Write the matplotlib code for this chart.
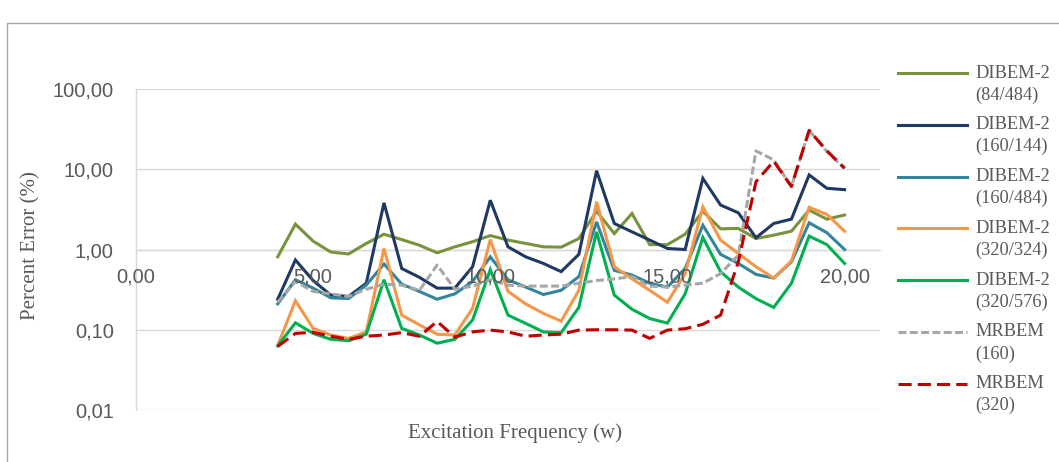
import matplotlib
matplotlib.use("Agg")
import matplotlib.pyplot as plt
from matplotlib.lines import Line2D
from matplotlib.patches import Rectangle
from matplotlib.ticker import FixedLocator, NullLocator

# ---- data ----
freq = [4.0, 4.5, 5.0, 5.5, 6.0, 6.5, 7.0, 7.5, 8.0, 8.5, 9.0, 9.5, 10.0, 10.5,
        11.0, 11.5, 12.0, 12.5, 13.0, 13.5, 14.0, 14.5, 15.0, 15.5, 16.0, 16.5,
        17.0, 17.5, 18.0, 18.5, 19.0, 19.5, 20.0]

dibem_84_484 = [0.81, 2.07, 1.27, 0.93, 0.88, 1.19, 1.55, 1.33, 1.13, 0.91, 1.08,
                1.25, 1.49, 1.31, 1.19, 1.08, 1.07, 1.37, 3.00, 1.58, 2.81, 1.15,
                1.15, 1.55, 3.00, 1.81, 1.83, 1.37, 1.51, 1.69, 3.10, 2.39, 2.69]
dibem_160_144 = [0.24, 0.74, 0.41, 0.27, 0.26, 0.38, 3.81, 0.58, 0.45, 0.33, 0.33,
                 0.61, 4.11, 1.08, 0.81, 0.67, 0.53, 0.87, 9.58, 2.11, 1.66, 1.31,
                 1.03, 1.00, 7.69, 3.58, 2.87, 1.40, 2.11, 2.39, 8.50, 5.79, 5.57]
dibem_160_484 = [0.21, 0.42, 0.33, 0.25, 0.245, 0.36, 0.66, 0.37, 0.30, 0.24, 0.28,
                 0.40, 0.81, 0.42, 0.34, 0.275, 0.31, 0.46, 2.21, 0.55, 0.48, 0.38,
                 0.34, 0.58, 2.01, 0.87, 0.67, 0.49, 0.44, 0.70, 2.15, 1.62, 1.00]
dibem_320_324 = [0.064, 0.23, 0.104, 0.086, 0.078, 0.094, 1.03, 0.152, 0.115, 0.088,
                 0.086, 0.185, 1.33, 0.30, 0.21, 0.16, 0.128, 0.31, 3.93, 0.61, 0.43,
                 0.31, 0.22, 0.50, 3.40, 1.31, 0.89, 0.61, 0.44, 0.72, 3.35, 2.74, 1.69]
dibem_320_576 = [0.063, 0.122, 0.090, 0.076, 0.073, 0.088, 0.42, 0.104, 0.086, 0.068,
                 0.076, 0.132, 0.56, 0.152, 0.120, 0.094, 0.092, 0.19, 1.66, 0.27,
                 0.18, 0.138, 0.121, 0.28, 1.41, 0.53, 0.34, 0.244, 0.19, 0.38, 1.47,
                 1.15, 0.67]
mrbem_160 = [0.22, 0.40, 0.30, 0.28, 0.26, 0.32, 0.37, 0.36, 0.31, 0.64, 0.32, 0.35,
             0.42, 0.36, 0.35, 0.35, 0.35, 0.38, 0.41, 0.43, 0.46, 0.35, 0.34, 0.36,
             0.38, 0.50, 0.85, 16.9, 13.1, 6.1, 30.5, 16.6, 10.2]
mrbem_320 = [0.062, 0.090, 0.093, 0.083, 0.076, 0.083, 0.086, 0.092, 0.083, 0.127,
             0.081, 0.094, 0.099, 0.094, 0.083, 0.086, 0.088, 0.099, 0.100, 0.100,
             0.099, 0.078, 0.099, 0.103, 0.117, 0.152, 0.70, 7.0, 12.6, 6.1, 30.5,
             17.0, 10.3]

series_names = ["DIBEM-2\n(84/484)", "DIBEM-2\n(160/144)", "DIBEM-2\n(160/484)",
                "DIBEM-2\n(320/324)", "DIBEM-2\n(320/576)", "MRBEM\n(160)", "MRBEM\n(320)"]
series_values = [dibem_84_484, dibem_160_144, dibem_160_484, dibem_320_324,
                 dibem_320_576, mrbem_160, mrbem_320]

y_ticks = [0.01, 0.1, 1, 10, 100]
y_tick_labels = ["0,01", "0,10", "1,00", "10,00", "100,00"]
x_ticks = [0, 5, 10, 15, 20]
x_tick_labels = ["0,00", "5,00", "10,00", "15,00", "20,00"]

# ---- styles ----
colors = ["#77933C", "#1F3864", "#31859C", "#F79646", "#00B050", "#A6A6A6", "#C00000"]
dashes = [None, None, None, None, None, (2.6, 1.1), (4.3, 2.0)]
LW = 2.2
TXT = "#595959"
GRID = "#D9D9D9"

W, H = 1059, 462
fig = plt.figure(figsize=(W / 100, H / 100), dpi=100)
fig.patch.set_facecolor("white")

# chart border
fig.add_artist(Rectangle((7 / W, -0.2), 2.0, 1.2 - 23 / H, transform=fig.transFigure,
                         fill=False, edgecolor="#A6A6A6", linewidth=1.0, clip_on=False))

left, right, top, bottom = 136, 880, 89, 410
ax = fig.add_axes([left / W, 1 - bottom / H, (right - left) / W, (bottom - top) / H])

for vals, c, d in zip(series_values, colors, dashes):
    ln, = ax.plot(freq, vals, color=c, linewidth=LW, solid_joinstyle="miter")
    if d is not None:
        ln.set_dashes(d)

ax.set_yscale("log")
ax.set_ylim(0.01, 100)
ax.set_xlim(0, 21)
ax.yaxis.set_major_locator(FixedLocator(y_ticks))
ax.yaxis.set_minor_locator(NullLocator())
ax.set_yticklabels(y_tick_labels)
ax.xaxis.set_major_locator(FixedLocator(x_ticks))
ax.set_xticklabels(x_tick_labels)

ax.grid(axis="y", color=GRID, linewidth=1.0)
ax.set_axisbelow(True)
ax.xaxis.set_zorder(3)  # x tick labels drawn over the lines, as in the reference
for s in ["top", "right"]:
    ax.spines[s].set_visible(False)
ax.spines["bottom"].set_position(("data", 1))
ax.spines["bottom"].set_color(GRID)
ax.spines["left"].set_color(GRID)
ax.spines["bottom"].set_linewidth(1.0)
ax.spines["left"].set_linewidth(1.0)
ax.spines["bottom"].set_zorder(0.6)
ax.tick_params(axis="both", length=0, colors=TXT, labelsize=14.5)
ax.tick_params(axis="y", pad=16)
ax.tick_params(axis="x", pad=13)
for lab in ax.get_xticklabels() + ax.get_yticklabels():
    lab.set_fontfamily("Liberation Sans")

fig.text(31 / W, 1 - 246 / H, "Percent Error (%)", rotation=90, ha="center", va="center",
         fontsize=15, color=TXT, family="Liberation Serif")
fig.text(515 / W, 1 - 433 / H, "Excitation Frequency (w)", ha="center", va="center",
         fontsize=15, color=TXT, family="Liberation Serif")

# legend
y0 = 73
step = 51.8
for i, (name, c, d) in enumerate(zip(series_names, colors, dashes)):
    yy = y0 + i * step
    ln = Line2D([898 / W, 967 / W], [1 - yy / H, 1 - yy / H], color=c, linewidth=LW,
                transform=fig.transFigure)
    if d is not None:
        ln.set_dashes(d)
    fig.add_artist(ln)
    l1, l2 = name.split("\n")
    fig.text(975 / W, 1 - yy / H, l1, ha="left", va="center", fontsize=13.2,
             color=TXT, family="Liberation Serif")
    fig.text(975 / W, 1 - (yy + 22) / H, l2, ha="left", va="center", fontsize=13.2,
             color=TXT, family="Liberation Serif")

fig.savefig("out.png", dpi=100)
